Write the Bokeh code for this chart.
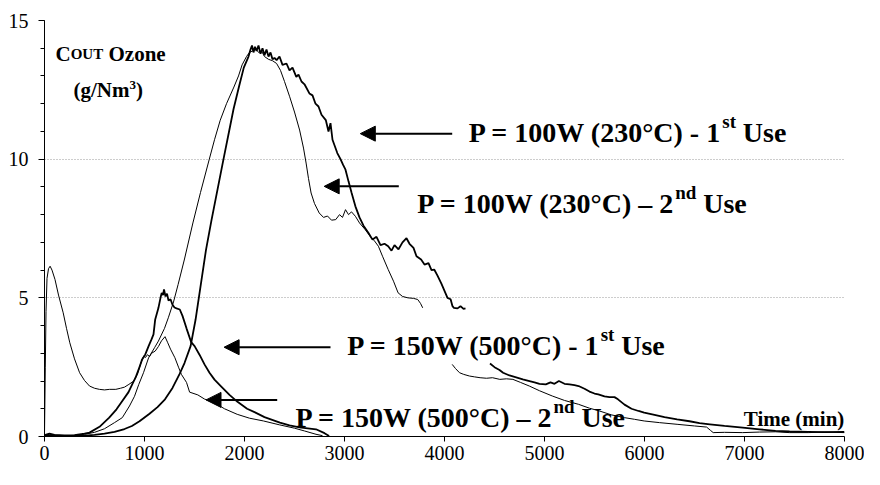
from bokeh.plotting import figure
from bokeh.models import Range1d, SingleIntervalTicker, Label, Arrow, NormalHead
from bokeh.embed import file_html
from bokeh.resources import INLINE

# ---------------- data ----------------
# P = 100W (230°C) - 1st Use  (thick)
t_100_1a = [0, 200, 400, 500, 600, 700, 800, 874, 950, 1050, 1130, 1205, 1280, 1350, 1400,
            1461, 1510, 1560, 1615, 1670, 1730, 1790, 1840, 1890, 1944, 1993, 2040,
            2060, 2075, 2090, 2105, 2120, 2140, 2160, 2180, 2200, 2220, 2240, 2260, 2280, 2300,
            2321, 2350, 2380, 2420, 2450, 2480, 2518, 2540, 2570, 2600, 2649, 2680, 2710, 2740,
            2770, 2813, 2840, 2860, 2880, 2900, 2928, 2960, 2985, 3010, 3040, 3070, 3109, 3150,
            3190, 3240, 3280, 3320, 3360, 3400, 3437, 3470, 3500, 3540, 3580, 3620, 3650, 3690,
            3720, 3766, 3800, 3840, 3870, 3897, 3930, 3970, 4000, 4030, 4061, 4080, 4094, 4130,
            4160, 4190, 4210]
c_100_1a = [0.02, 0.02, 0.03, 0.06, 0.10, 0.17, 0.27, 0.38, 0.55, 0.82, 1.06, 1.34, 1.75, 2.25, 2.65,
            3.26, 4.2, 5.4, 6.73, 7.8, 8.9, 10.0, 10.9, 11.8, 12.6, 13.3, 13.7,
            13.95, 14.1, 13.85, 14.05, 13.9, 14.1, 13.8, 14.0, 13.75, 13.95, 13.7, 13.85, 13.6, 13.65,
            13.57, 13.7, 13.4, 13.45, 13.2, 13.3, 12.97, 13.05, 12.8, 12.7, 12.37, 12.3, 12.0, 11.9,
            11.6, 11.41, 11.0, 11.3, 10.7, 10.5, 10.22, 10.0, 9.8, 9.62, 9.2, 8.8, 8.3, 7.9,
            7.6, 7.34, 7.1, 7.2, 6.9, 6.95, 6.86, 6.7, 6.9, 6.75, 7.0, 7.15, 6.95, 6.8,
            6.5, 6.38, 6.2, 6.25, 6.0, 6.02, 5.8, 5.5, 5.25, 5.0, 4.95, 4.7, 4.64, 4.62,
            4.7, 4.6, 4.62]
t_100_1b = [4455, 4500, 4550, 4586, 4650, 4700, 4783, 4850, 4900, 4950, 5013, 5060, 5100, 5144,
            5200, 5250, 5300, 5341, 5400, 5450, 5500, 5538, 5600, 5650, 5700, 5735, 5800, 5870,
            5940, 5997, 6100, 6200, 6326, 6450, 6550, 6654, 6800, 6982, 7150, 7310, 7450, 7639,
            7800, 8000]
c_100_1b = [2.63, 2.5, 2.4, 2.3, 2.2, 2.15, 2.06, 2.0, 1.95, 1.9, 1.88, 1.95, 1.9, 2.0,
            1.9, 1.88, 1.85, 1.82, 1.72, 1.62, 1.55, 1.52, 1.45, 1.42, 1.42, 1.34, 1.15, 1.0,
            0.92, 0.86, 0.78, 0.7, 0.62, 0.55, 0.48, 0.44, 0.38, 0.32, 0.26, 0.2, 0.18, 0.17,
            0.16, 0.17]

# P = 100W (230°C) - 2nd Use  (thin)
t_100_2a = [0, 50, 100, 200, 300, 400, 500, 600, 700, 778, 850, 900, 943, 990, 1041, 1100, 1139,
            1200, 1238, 1290, 1336, 1400, 1484, 1560, 1648, 1700, 1757, 1820, 1894, 1940, 1976,
            2020, 2050, 2080, 2110, 2140, 2170, 2200, 2240, 2280, 2321, 2360, 2400, 2452, 2500,
            2551, 2590, 2616, 2640, 2666, 2700, 2747, 2790, 2830, 2870, 2912, 2950, 2980, 3010,
            3040, 3070, 3109, 3150, 3207, 3260, 3300, 3339, 3380, 3437, 3490, 3536, 3580, 3634,
            3690, 3732, 3760, 3782]
c_100_2a = [0.05, 0.08, 0.05, 0.03, 0.04, 0.08, 0.15, 0.28, 0.5, 0.68, 1.1, 1.45, 1.88, 2.3, 2.84, 3.2, 3.44,
            3.9, 4.28, 4.85, 5.48, 6.4, 7.7, 8.8, 10.0, 10.7, 11.4, 12.0, 12.6, 13.0, 13.4,
            13.7, 13.85, 13.9, 14.0, 13.85, 13.9, 13.7, 13.6, 13.55, 13.45, 13.2, 12.8, 12.25, 11.7,
            11.05, 10.4, 9.86, 9.3, 8.78, 8.4, 8.06, 7.9, 7.95, 7.8, 7.82, 8.0, 7.9, 8.18,
            8.0, 8.1, 7.94, 7.7, 7.46, 7.2, 7.05, 6.86, 6.5, 6.02, 5.6, 5.18, 5.05, 5.0,
            4.98, 4.94, 4.8, 4.64]
t_100_2b = [4077, 4110, 4150, 4192, 4250, 4300, 4356, 4420, 4480, 4553, 4620, 4684, 4760, 4848,
            4950, 5078, 5200, 5341, 5450, 5550, 5669, 5800, 5900, 5997, 6150, 6326, 6500, 6621,
            6660, 6687, 6800, 6982, 7150, 7310, 7450, 7639, 7800, 8000]
c_100_2b = [2.6, 2.45, 2.3, 2.24, 2.18, 2.15, 2.12, 2.1, 2.12, 2.06, 2.08, 2.06, 1.95, 1.82,
            1.65, 1.46, 1.3, 1.16, 1.02, 0.92, 0.78, 0.68, 0.62, 0.56, 0.5, 0.44, 0.38, 0.34,
            0.22, 0.14, 0.15, 0.14, 0.16, 0.17, 0.14, 0.14, 0.16, 0.14]

# P = 150W (500°C) - 1st Use  (thick)
t_150_1 = [0, 50, 100, 200, 300, 400, 450, 550, 647, 720, 778, 840, 877, 910, 950, 976, 1008,
           1041, 1070, 1090, 1107, 1139, 1160, 1172, 1185, 1195, 1210, 1225, 1240, 1260, 1280,
           1300, 1320, 1353, 1380, 1420, 1467, 1501, 1550, 1600, 1650, 1700, 1763, 1850, 1930,
           2026, 2100, 2200, 2354, 2450, 2550, 2715, 2800, 2846]
c_150_1 = [0.05, 0.1, 0.06, 0.04, 0.05, 0.1, 0.14, 0.35, 0.68, 0.98, 1.28, 1.6, 1.88, 2.12, 2.5, 2.78, 2.96,
           3.26, 3.5, 3.68, 4.22, 4.63, 5.0, 5.18, 5.1, 5.3, 5.05, 5.15, 4.9, 4.95, 4.75,
           4.65, 4.62, 4.58, 4.35, 3.9, 3.4, 3.26, 2.95, 2.6, 2.3, 2.05, 1.82, 1.5, 1.25,
           1.0, 0.88, 0.7, 0.5, 0.4, 0.33, 0.26, 0.12, 0.02]

# P = 150W (500°C) - 2nd Use  (thin, with initial peak)
t_150_2 = [0, 8, 15, 25, 40, 56, 75, 105, 140, 187, 220, 253, 300, 351, 400, 450, 500, 549, 600,
           650, 713, 760, 800, 844, 893, 930, 959, 992, 1010, 1030, 1050, 1070, 1107, 1140, 1170,
           1205, 1230, 1260, 1304, 1340, 1369, 1420, 1451, 1533, 1600, 1698, 1800, 1927, 2050,
           2190, 2350, 2500, 2600, 2715, 2780]
c_150_2 = [0.1, 2.5, 4.5, 5.7, 6.05, 6.14, 6.0, 5.66, 5.1, 4.46, 3.9, 3.38, 2.8, 2.3, 2.02, 1.82, 1.74, 1.70, 1.68,
           1.7, 1.70, 1.74, 1.78, 1.88, 2.0, 2.25, 2.6, 2.9, 2.85, 2.95, 2.88, 3.0, 3.08, 3.25, 3.45,
           3.6, 3.4, 3.15, 2.84, 2.5, 2.24, 1.95, 1.6, 1.5, 1.35, 1.22, 1.0, 0.8, 0.66,
           0.56, 0.42, 0.3, 0.2, 0.08, 0.03]

x_ticks_interval = 1000
y_ticks_interval = 5

# ---------------- figure ----------------
FONT = "Liberation Serif"

p = figure(width=864, height=469, x_range=Range1d(0, 8000), y_range=Range1d(0, 15),
           output_backend="svg", toolbar_location=None,
           min_border_left=44, min_border_right=20, min_border_top=20, min_border_bottom=33)
p.outline_line_color = None
p.background_fill_color = "white"
p.border_fill_color = "white"

p.xaxis.ticker = SingleIntervalTicker(interval=x_ticks_interval, num_minor_ticks=0)
p.yaxis.ticker = SingleIntervalTicker(interval=y_ticks_interval, num_minor_ticks=5)
p.xgrid.visible = False
p.ygrid.ticker = SingleIntervalTicker(interval=y_ticks_interval, num_minor_ticks=0)
p.ygrid.grid_line_color = "#9a9a9a"
p.ygrid.grid_line_dash = "1 2"
p.ygrid.grid_line_width = 1

p.axis.axis_line_color = "black"
p.axis.axis_line_width = 1
p.axis.major_tick_line_color = "black"
p.axis.minor_tick_line_color = "black"
p.axis.major_tick_in = 0
p.axis.minor_tick_in = 0
p.axis.major_label_text_font = FONT
p.axis.major_label_text_font_style = "normal"
p.axis.major_label_text_font_size = "20px"
p.axis.major_label_text_color = "black"

p.xaxis.major_tick_out = 5
p.xaxis.minor_tick_out = 0
p.xaxis.major_label_standoff = 4
p.yaxis.major_tick_out = 6
p.yaxis.minor_tick_out = 4
p.yaxis.major_label_standoff = 10

# curves
p.line(t_100_1a, c_100_1a, line_color="black", line_width=1.8)
p.line(t_100_1b, c_100_1b, line_color="black", line_width=1.8)
p.line(t_100_2a, c_100_2a, line_color="black", line_width=1.0)
p.line(t_100_2b, c_100_2b, line_color="black", line_width=1.0)
p.line(t_150_1, c_150_1, line_color="black", line_width=1.8)
p.line(t_150_2, c_150_2, line_color="black", line_width=1.0)

# arrows (tail x, tip x, y)
arrows = [
    (4077, 3158, 10.92),
    (3543, 2797, 9.02),
    (2860, 1796, 3.22),
    (2327, 1615, 1.32),
]
for xs, xe, yy in arrows:
    p.add_layout(Arrow(end=NormalHead(size=15, fill_color="black", line_color="black"),
                       x_start=xs, y_start=yy, x_end=xe, y_end=yy,
                       line_color="black", line_width=2))


def lab(x, y, text, size, dx=0, dy=0):
    p.add_layout(Label(x=x, y=y, text=text, text_font=FONT, text_font_size=f"{size}px",
                       text_font_style="bold", text_color="black", text_baseline="alphabetic",
                       text_align="left", x_offset=dx, y_offset=dy))


# series labels
lab(4243, 10.97, "P = 100W (230°C) - 1", 28)
lab(4243, 10.97, "st", 19, 253.5, 11)
lab(4243, 10.97, "Use", 28, 274)

lab(3727, 8.39, "P = 100W (230°C) – 2", 28)
lab(3727, 8.39, "nd", 19, 258, 11)
lab(3727, 8.39, "Use", 28, 286)

lab(3027, 3.28, "P = 150W (500°C) - 1", 28)
lab(3027, 3.28, "st", 19, 253.5, 11)
lab(3027, 3.28, "Use", 28, 274)

lab(2510, 0.70, "P = 150W (500°C) – 2", 28)
lab(2510, 0.70, "nd", 19, 258, 11)
lab(2510, 0.70, "Use", 28, 286)

# axis titles
lab(110, 13.80, "C", 21)
lab(110, 13.80, "OUT", 15, 15.2)
lab(110, 13.80, "Ozone", 21, 53)
lab(290, 12.48, "(g/Nm", 21)
lab(290, 12.48, "3", 13, 56, 5)
lab(290, 12.48, ")", 21, 62.5)
lab(6993, 0.64, "Time (min)", 21)

open("out.html", "w").write(file_html(p, INLINE))
